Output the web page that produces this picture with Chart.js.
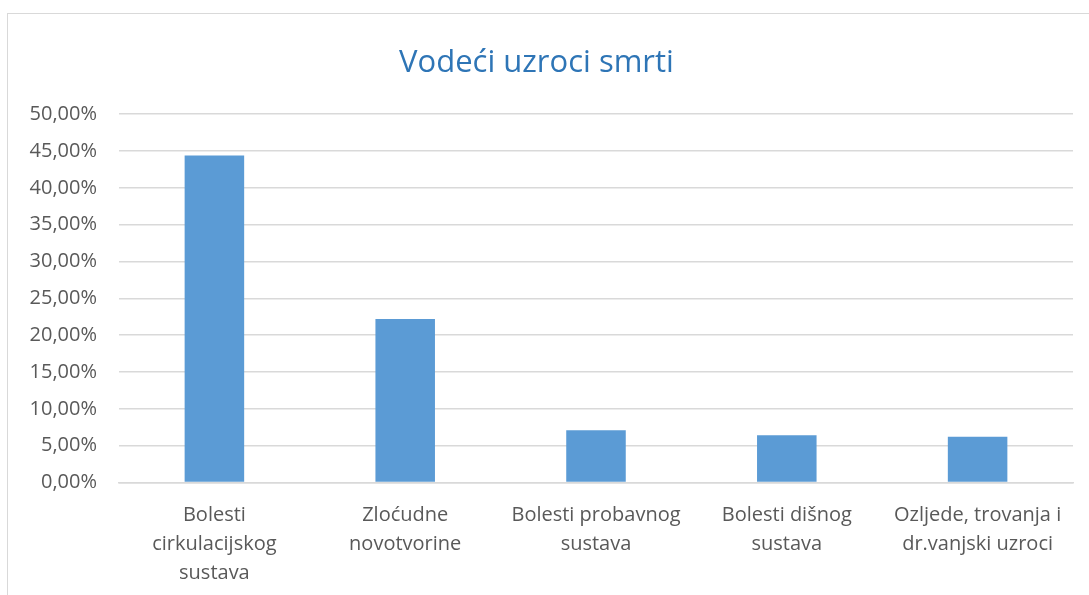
<!DOCTYPE html>
<html>
<head>
<meta charset="utf-8">
<script src="https://cdn.jsdelivr.net/npm/chart.js@4.4.0/dist/chart.umd.min.js"></script>
<style>
  html, body { margin: 0; padding: 0; background: #fff; }
  #okvir { position: absolute; left: 7px; top: 13px; width: 1100px; height: 600px; border: 1px solid #d9d9d9; }
  #wrap { position: absolute; left: 0; top: 0; width: 1089px; height: 595px; }
</style>
</head>
<body>
<div id="okvir"></div>
<div id="wrap"><canvas id="grafikon"></canvas></div>
<script>
const kategorije = [
  ['Bolesti', 'cirkulacijskog', 'sustava'],
  ['Zloćudne', 'novotvorine'],
  ['Bolesti probavnog', 'sustava'],
  ['Bolesti dišnog', 'sustava'],
  ['Ozljede, trovanja i', 'dr.vanjski uzroci']
];
const udjeli = [44.4, 22.2, 7.1, 6.4, 6.2];
const naslov = 'Vodeći uzroci smrti';

const font = "'Open Sans', 'Noto Sans', sans-serif";

new Chart(document.getElementById('grafikon'), {
  type: 'bar',
  data: {
    labels: kategorije,
    datasets: [{
      label: 'Udio',
      data: udjeli,
      backgroundColor: '#5b9bd5',
      barPercentage: 0.312,
      categoryPercentage: 1
    }]
  },
  options: {
    responsive: true,
    maintainAspectRatio: false,
    animation: false,
    layout: { padding: { left: 0, right: 16, top: 0, bottom: 0 } },
    plugins: {
      legend: { display: false },
      tooltip: { enabled: false },
      title: {
        display: true,
        text: naslov,
        color: '#2e75b6',
        font: { family: font, size: 31, weight: 'normal', lineHeight: 1.2 },
        padding: { top: 45, bottom: 32 }
      }
    },
    scales: {
      x: {
        grid: { display: false },
        border: { color: '#d9d9d9', width: 1.5 },
        ticks: {
          color: '#595959',
          font: { family: font, size: 20, lineHeight: 1.45 },
          maxRotation: 0,
          autoSkip: false,
          padding: 10
        },
        afterFit: s => { s.height = 112.5; }
      },
      y: {
        min: 0,
        max: 50,
        grid: { color: '#d9d9d9', lineWidth: 1.5, drawTicks: false },
        border: { display: false },
        ticks: {
          stepSize: 5,
          color: '#595959',
          font: { family: font, size: 20 },
          padding: 22,
          callback: v => v.toFixed(2).replace('.', ',') + '%'
        },
        afterFit: s => { s.width = 119; }
      }
    }
  }
});
</script>
</body>
</html>
